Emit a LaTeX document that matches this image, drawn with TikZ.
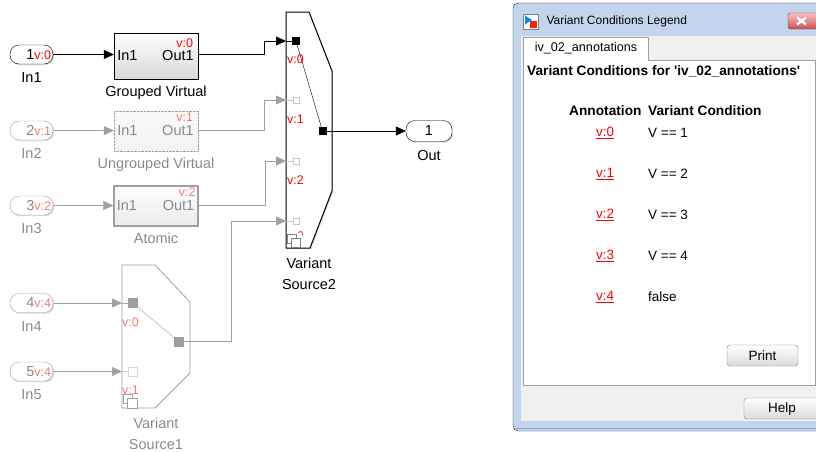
\documentclass[tikz,border=0pt]{standalone}
\usepackage{fontspec}
\setmainfont{Liberation Sans}
\usepackage{xcolor}
\usetikzlibrary{arrows.meta, positioning, shadows}

\definecolor{dimline}{HTML}{A0A0A0}
\definecolor{dimtext}{HTML}{8A8A8A}
\definecolor{tagred}{HTML}{FF0000}
\definecolor{dimred}{HTML}{F47A7A}
\definecolor{winframe}{HTML}{C3D5EC}
\definecolor{winface}{HTML}{F0F0F0}
\definecolor{panelline}{HTML}{A0A0A0}
\definecolor{closered}{HTML}{C75050}

\newcommand{\vtag}[1]{\textcolor{tagred}{\fontsize{12.5}{12.5}\selectfont #1}}
\newcommand{\dtag}[1]{\textcolor{dimred}{\fontsize{12.5}{12.5}\selectfont #1}}

\begin{document}
\begin{tikzpicture}[
    x=1pt, y=-1pt,
    font=\fontsize{14.5}{21}\selectfont,
    shade/.style={drop shadow={shadow xshift=1.2pt, shadow yshift=-1.2pt, opacity=0.3}},
    pill/.style={draw, fill=white, rounded corners=9pt, minimum height=19pt, text width=39pt, inner xsep=2pt, inner ysep=0pt, align=right, shade},
    dim/.style={draw=dimline, text=dimtext},
    dimtxt/.style={text=dimtext},
    blk/.style={draw, minimum width=84pt, minimum height=40pt, top color=white, bottom color=black!15, shade},
    sig/.style={-{Triangle[length=10pt, width=9pt]}},
    port/.style={draw, fill=black, minimum size=7pt, inner sep=0pt},
    hport/.style={draw=dimline!60, fill=white, minimum size=6pt, inner sep=0pt},
    tag/.style={text=tagred, font=\fontsize{12.5}{12.5}\selectfont, inner sep=0pt},
    dtag/.style={text=dimred, font=\fontsize{12.5}{12.5}\selectfont, inner sep=0pt},
    wtext/.style={font=\fontsize{13.5}{15}\selectfont, inner sep=0pt},
    wbold/.style={font=\fontsize{13.7}{15}\selectfont\bfseries, inner sep=0pt},
    btn/.style={draw=gray, rounded corners=3pt, top color=white, bottom color=black!14, font=\fontsize{13.5}{15}\selectfont}
]
    \useasboundingbox (0,0) rectangle (816,451);

    % inports
    \node[pill] (in1) at (31.5,54.5) {1\vtag{v:0}};
    \node[pill, dim] (in2) at (31.5,130.5) {2\dtag{v:1}};
    \node[pill, dim] (in3) at (31.5,205.5) {3\dtag{v:2}};
    \node[pill, dim] (in4) at (31.5,303) {4\dtag{v:4}};
    \node[pill, dim] (in5) at (31.5,371.5) {5\dtag{v:4}};
    \node[below=5pt of in1] (in1lbl) {In1};
    \node[dimtxt, below=5pt of in2] (in2lbl) {In2};
    \node[dimtxt, below=5pt of in3] (in3lbl) {In3};
    \node[dimtxt, below=5pt of in4] (in4lbl) {In4};
    \node[dimtxt, below=5pt of in5] (in5lbl) {In5};

    % subsystems
    \node[blk, minimum height=46pt,
          label={[anchor=west]west:In1}, label={[anchor=east, xshift=-1pt]east:Out1},
          label={[tag, anchor=north east, xshift=-5pt, yshift=-6pt]north east:v:0}] (gv) at (156,56) {};
    \node[blk, densely dotted, draw=dimline, shade/.style={}, top color=black!2, bottom color=black!5,
          label={[dimtxt, anchor=west]west:In1}, label={[dimtxt, anchor=east, xshift=-1pt]east:Out1},
          label={[dtag, anchor=north east, xshift=-5pt, yshift=-2pt]north east:v:1}] (ugv) at (156,131) {};
    \node[blk, draw=dimline, line width=1.5pt, top color=white, bottom color=black!8,
          label={[dimtxt, anchor=west]west:In1}, label={[dimtxt, anchor=east, xshift=-1pt]east:Out1},
          label={[dtag, anchor=north east, xshift=-3pt, yshift=-2pt]north east:v:2}] (atm) at (156,206) {};
    \node[below=3pt of gv] (gvlbl) {Grouped Virtual};
    \node[dimtxt, below=3pt of ugv] (ugvlbl) {Ungrouped Virtual};
    \node[dimtxt, below=3pt of atm] (atmlbl) {Atomic};

    % Variant Source2
    \draw[line width=1pt, fill=white, shade] (286,12) -- (309,12) -- (332,71) -- (332,191) -- (310,248) -- (286,248) -- cycle;
    \coordinate (vs2e0) at (286,41);
    \coordinate (vs2e1) at (286,100);
    \coordinate (vs2e2) at (286,161);
    \coordinate (vs2e3) at (286,221);
    \coordinate (vs2b) at (309,248);
    \node[port] (vs2p0) at (296,41) {};
    \node[hport] (vs2p1) at (296,100) {};
    \node[hport] (vs2p2) at (296,161) {};
    \node[hport] (vs2p3) at (296,221) {};
    \node[port] (vs2out) at (322.5,131) {};
    \node[tag, anchor=west] (vs2t0) at (287,59) {v:0};
    \node[tag, anchor=west] (vs2t1) at (287,119) {v:1};
    \node[tag, anchor=west] (vs2t2) at (287,180) {v:2};
    \draw[tagred, line width=0.6pt] (298.5,233) arc[start angle=160, end angle=-40, radius=2.2pt];
    \draw[gray, fill=white] (287,234) rectangle (296,243);
    \draw[gray, fill=white] (291,238) rectangle (300,247);
    \draw[dimline!60] (vs2e1) -- (vs2p1);
    \draw[dimline!60] (vs2e2) -- (vs2p2);
    \draw[dimline!60] (vs2e3) -- (vs2p3);
    \draw (vs2p0) -- (vs2out);
    \node[align=center, below=6pt of vs2b] (vs2lbl) {Variant\\Source2};

    % Variant Source1
    \draw[dimline, line width=0.8pt, fill=white] (122,265) -- (155,265) -- (190,302) -- (190,373) -- (155,408) -- (122,408) -- cycle;
    \coordinate (vs1e0) at (122,303);
    \coordinate (vs1e1) at (122,371.5);
    \coordinate (vs1b) at (156,408);
    \node[port, draw=gray!80, fill=gray!75, minimum size=9pt] (vs1p0) at (132.5,303) {};
    \node[hport, draw=dimline!45, minimum size=9pt] (vs1p1) at (132.5,371.5) {};
    \node[port, draw=gray!80, fill=gray!75, minimum size=9pt] (vs1out) at (179,341.5) {};
    \node[dtag, anchor=west] (vs1t0) at (122,322) {v:0};
    \node[dtag, anchor=west] (vs1t1) at (122,390) {v:1};
    \draw[dimline, fill=white] (123,394) rectangle (132,403);
    \draw[dimline, fill=white] (127,398) rectangle (137,408);
    \draw[dimline] (vs1p0) -- (vs1out);
    \node[dimtxt, align=center, below=6pt of vs1b] (vs1lbl) {Variant\\Source1};

    % outport
    \node[pill, text width=42pt, minimum height=21pt, align=center] (out) at (429,131) {1};
    \node[below=5pt of out] (outlbl) {Out};

    % signal lines
    \draw[sig] (in1) -- (in1 -| gv.west);
    \draw[sig, dimline] (in2) -- (in2 -| ugv.west);
    \draw[sig, dimline] (in3) -- (in3 -| atm.west);
    \draw[sig, dimline] (in4) -- (vs1e0);
    \draw[sig, dimline] (in5) -- (vs1e1);
    \draw[dimline] (vs1e0) -- (vs1p0);
    \draw[dimline!50] (vs1e1) -- (vs1p1);
    \draw[sig] (gv.east |- in1) -- ++(66,0) |- (vs2e0);
    \draw (vs2e0) -- (vs2p0);
    \draw[sig, dimline] (ugv.east |- in2) -- ++(66,0) |- (vs2e1);
    \draw[sig, dimline] (atm.east |- in3) -- ++(66,0) |- (vs2e2);
    \draw[sig, dimline] (vs1out.east) -- ++(47.5,0) |- (vs2e3);
    \draw[sig] (vs2out) -- (out);

    % legend window
    \draw[rounded corners=5pt, fill=winframe, draw=black!85] (513,3) rectangle (830,431);
    \fill[winface] (521,36) rectangle (830,421);
    \draw[cyan!50!blue!50, line width=1pt] (514,428.5) -- (830,428.5);
    \draw[gray, fill=white] (523,14) rectangle (538,29);
    \fill[blue!45!cyan] (525,15.5) -- (532,20) -- (525,24.5) -- cycle;
    \fill[red!75!orange] (530,21) rectangle (537,28);
    \node[anchor=west, font=\fontsize{12}{14}\selectfont] (wtitle) at (543,21) {Variant Conditions Legend};
    \draw[draw=closered!60!black, rounded corners=2.5pt, top color=red!25!white, bottom color=closered] (788,13) rectangle (830,29);
    \draw[white, line width=2.4pt] (797,17.5) -- (806,24.5) (797,24.5) -- (806,17.5);
    \draw[panelline, fill=white] (523,60) rectangle (815,385);
    \fill[white] (523.5,37.5) rectangle (647.5,61);
    \draw[panelline] (523,60) |- (648,37) -- (648,60);
    \node[wtext, font=\fontsize{12.6}{14}\selectfont] (tabtxt) at (586,48) {iv\_02\_annotations};
    \node[wbold, anchor=west] (head) at (527,71)
        {Variant Conditions for \textquotesingle iv\_02\_annotations\textquotesingle};
    \node[wbold, anchor=west] (hann) at (569,111) {Annotation};
    \node[wbold, anchor=west] (hcond) at (648,111) {Variant Condition};
    \foreach \k/\yy/\cond in {0/133/V == 1, 1/174/V == 2, 2/215/V == 3, 3/256/V == 4, 4/297/false} {
        \node[wtext, anchor=west, text=tagred] (ann\k) at (596,\yy) {\underline{v:\k}};
        \node[wtext, anchor=west] (cond\k) at (648,\yy) {\cond};
    }
    \node[btn, minimum width=71pt, minimum height=21pt] (print) at (762.5,355.5) {Print};
    \node[btn, minimum width=76pt, minimum height=21pt] (help) at (782,408.5) {Help};
\end{tikzpicture}
\end{document}
